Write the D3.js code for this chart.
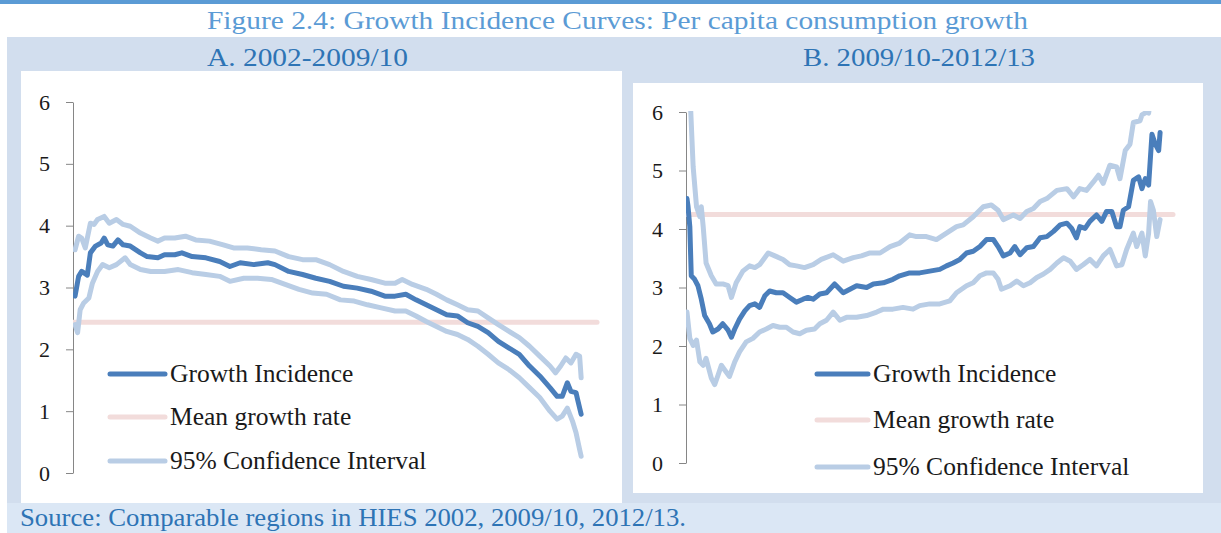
<!DOCTYPE html>
<html>
<head>
<meta charset="utf-8">
<script src="https://cdn.jsdelivr.net/npm/d3@7"></script>
<style>
  body { margin: 0; background: #fff; }
  svg text { font-family: "Liberation Serif", "Times New Roman", serif; }
</style>
</head>
<body>
<div id="chart"></div>
<script>
// ---- data (percentile of population, growth %) ----
var yTicks = [0, 1, 2, 3, 4, 5, 6];
var legendLabels = ["Growth Incidence", "Mean growth rate", "95% Confidence Interval"];

var giA = [[1,2.86],[1.7,3.18],[2.3,3.26],[3.4,3.20],[4.0,3.56],[5.0,3.67],[6.1,3.72],[6.7,3.80],
  [7.4,3.69],[8.4,3.67],[9.4,3.77],[10.4,3.69],[11.8,3.67],[13.8,3.56],[15.1,3.50],[17.2,3.48],
  [18.5,3.53],[20.5,3.53],[21.9,3.56],[23.9,3.50],[26.6,3.48],[29.3,3.42],[31.3,3.34],[33.3,3.40],
  [36.0,3.37],[38.7,3.40],[40.1,3.37],[42.8,3.26],[45.5,3.21],[48.1,3.15],[50.8,3.10],[53.5,3.02],
  [56.2,2.99],[58.9,2.94],[61.6,2.86],[63.6,2.86],[65.7,2.89],[67.7,2.80],[69.7,2.72],[71.7,2.64],
  [73.7,2.56],[75.8,2.54],[77.8,2.43],[79.8,2.37],[81.8,2.27],[83.8,2.13],[85.9,2.02],[87.9,1.92],
  [89.9,1.73],[91.9,1.57],[93.9,1.38],[95.3,1.24],[96.3,1.24],[97.3,1.46],[98.0,1.32],[99.0,1.30],
  [99.3,1.19],[100,0.95]];
var ciUpperA = [[1,3.61],[1.7,3.83],[2.3,3.80],[3.0,3.64],[4.0,4.04],[4.7,4.02],[5.4,4.10],[6.7,4.15],
  [7.7,4.04],[9.1,4.10],[10.4,4.02],[11.8,3.99],[13.8,3.88],[15.8,3.80],[17.2,3.75],[18.5,3.80],
  [20.5,3.80],[22.6,3.83],[24.6,3.77],[27.3,3.75],[30.0,3.69],[32.0,3.64],[34.7,3.64],[37.4,3.61],
  [40.1,3.59],[42.8,3.50],[45.5,3.45],[48.1,3.45],[50.8,3.37],[53.5,3.26],[56.2,3.18],[58.9,3.13],
  [61.6,3.07],[63.6,3.07],[65.0,3.13],[67.0,3.05],[69.7,2.97],[71.7,2.89],[73.7,2.80],[75.8,2.72],
  [77.8,2.64],[79.8,2.62],[81.8,2.51],[83.8,2.40],[85.9,2.29],[87.9,2.19],[89.9,2.05],[91.9,1.89],
  [93.9,1.73],[95.0,1.62],[96.0,1.73],[97.0,1.86],[98.0,1.78],[99.0,1.92],[99.7,1.89],[100,1.54]];
var ciLowerA = [[1,2.40],[1.5,2.27],[2.0,2.64],[2.7,2.75],[3.7,2.83],[4.4,3.07],[5.4,3.26],[6.4,3.37],
  [7.7,3.32],[9.1,3.37],[10.8,3.48],[11.8,3.37],[13.8,3.29],[15.8,3.26],[18.5,3.26],[21.2,3.29],
  [23.9,3.24],[26.6,3.21],[29.3,3.18],[31.3,3.10],[34.0,3.15],[36.7,3.15],[39.4,3.13],[42.1,3.05],
  [44.8,2.97],[47.5,2.91],[50.2,2.89],[52.9,2.80],[55.6,2.78],[58.2,2.72],[60.9,2.67],[63.6,2.62],
  [65.7,2.62],[67.7,2.54],[69.7,2.45],[71.7,2.37],[73.7,2.29],[75.8,2.24],[77.8,2.16],[79.8,2.05],
  [81.8,1.92],[83.8,1.78],[85.9,1.67],[87.9,1.54],[89.9,1.38],[91.9,1.22],[93.9,1.00],[95.3,0.87],
  [96.3,0.92],[97.3,1.05],[98.3,0.84],[99.0,0.65],[99.7,0.38],[100,0.27]];
var meanA = 2.44;

var giB = [[1,4.52],[1.2,4.40],[1.6,4.04],[1.9,3.20],[2.6,3.14],[3.3,3.03],[4.0,2.80],[4.7,2.52],
  [5.7,2.38],[6.4,2.24],[7.5,2.29],[8.5,2.38],[9.6,2.27],[10.3,2.15],[11.0,2.29],[12.0,2.46],
  [13.1,2.60],[14.1,2.69],[15.2,2.72],[16.2,2.66],[17.3,2.86],[18.3,2.94],[19.7,2.91],[21.1,2.91],
  [22.5,2.83],[23.9,2.75],[25.3,2.80],[26.3,2.83],[27.4,2.80],[28.8,2.89],[30.2,2.91],[31.9,3.06],
  [33.7,2.91],[35.1,2.97],[36.5,3.03],[38.6,3.00],[40.0,3.06],[42.1,3.08],[44.1,3.14],[45.5,3.20],
  [47.6,3.25],[49.7,3.25],[51.8,3.28],[53.9,3.31],[55.3,3.37],[56.7,3.42],[58.1,3.48],[59.5,3.59],
  [60.9,3.62],[62.3,3.70],[63.7,3.82],[65.1,3.82],[66.1,3.70],[67.2,3.54],[68.6,3.59],[69.6,3.70],
  [70.7,3.56],[72.1,3.68],[73.5,3.70],[74.9,3.85],[76.3,3.87],[77.7,3.96],[79.1,4.07],[80.5,4.10],
  [81.5,4.01],[82.5,3.85],[83.2,4.04],[84.3,4.01],[85.3,4.13],[86.7,4.24],[87.8,4.13],[88.8,4.30],
  [89.9,4.30],[90.9,4.04],[91.6,4.04],[92.3,4.32],[93.4,4.38],[94.4,4.83],[95.5,4.89],[96.2,4.69],
  [96.9,4.86],[97.6,4.75],[98.3,5.62],[99.0,5.45],[99.7,5.34],[100,5.65]];
var ciUpperB = [[1,7.5],[2.3,5.06],[3.0,4.38],[3.7,4.21],[4.0,4.38],[4.4,4.04],[5.0,3.42],[6.1,3.20],
  [7.1,3.06],[8.5,3.06],[9.6,3.03],[10.3,2.83],[11.3,3.08],[12.7,3.28],[14.1,3.37],[15.2,3.34],
  [16.2,3.39],[18.0,3.59],[19.4,3.54],[21.1,3.48],[22.5,3.39],[23.9,3.37],[25.6,3.34],[27.4,3.39],
  [29.1,3.48],[31.6,3.56],[33.7,3.45],[35.8,3.51],[37.5,3.54],[39.3,3.59],[41.4,3.59],[43.5,3.70],
  [45.5,3.76],[47.6,3.90],[49.0,3.87],[51.1,3.87],[53.2,3.82],[55.3,3.93],[57.4,4.04],[58.8,4.07],
  [60.9,4.21],[63.0,4.38],[64.7,4.41],[66.1,4.32],[67.2,4.16],[69.3,4.24],[70.7,4.18],[72.1,4.30],
  [73.5,4.35],[74.9,4.47],[76.3,4.52],[78.4,4.66],[80.5,4.69],[81.9,4.55],[83.2,4.69],[84.6,4.66],
  [86.0,4.80],[87.1,4.92],[88.1,4.78],[89.5,5.09],[90.9,5.06],[91.6,4.86],[92.7,5.34],[93.7,5.45],
  [94.4,5.82],[95.8,5.85],[96.2,5.95],[97.2,6.0],[97.6,5.98],[98.6,6.6],[100,6.8]];
var ciLowerB = [[1,2.58],[1.6,2.13],[2.3,2.01],[3.0,2.10],[3.7,1.73],[4.4,1.67],[5.0,1.79],[6.1,1.45],
  [6.8,1.34],[7.5,1.50],[8.2,1.67],[8.9,1.59],[9.9,1.48],[11.0,1.73],[12.0,1.90],[13.4,2.07],
  [14.8,2.13],[16.2,2.24],[17.6,2.29],[19.0,2.35],[20.4,2.32],[21.8,2.32],[23.2,2.24],[24.6,2.21],
  [26.0,2.27],[27.7,2.29],[28.8,2.38],[30.2,2.44],[31.6,2.58],[33.0,2.44],[34.4,2.49],[36.5,2.49],
  [38.6,2.52],[40.7,2.58],[42.1,2.63],[44.1,2.63],[46.2,2.66],[48.3,2.63],[49.7,2.69],[51.8,2.72],
  [53.9,2.72],[56.0,2.77],[57.4,2.91],[59.5,3.03],[60.9,3.08],[62.3,3.20],[63.7,3.25],[65.1,3.25],
  [66.1,3.14],[66.8,2.97],[68.6,3.03],[70.0,3.11],[71.4,3.03],[72.8,3.08],[74.2,3.17],[75.6,3.23],
  [77.0,3.31],[78.4,3.42],[79.8,3.51],[81.2,3.45],[82.5,3.31],[83.9,3.39],[85.3,3.48],[86.7,3.37],
  [88.1,3.54],[89.5,3.65],[90.9,3.37],[92.0,3.39],[93.0,3.65],[94.4,3.93],[95.1,3.70],[96.2,3.93],
  [96.9,3.54],[97.6,3.93],[98.0,4.47],[98.6,4.32],[99.3,3.87],[100,4.16]];
var meanB = 4.25;

// ---- styles ----
var COLORS = { gi: "#4a7ebb", mean: "#f2dcdb", ci: "#b9cde5" };
var W = 1221, H = 533;

var svg = d3.select("#chart").append("svg")
    .attr("width", W)
    .attr("height", H);

// background bands
svg.append("rect").attr("x", 0).attr("y", 0).attr("width", W).attr("height", 4).attr("fill", "#5b9bd5");
svg.append("rect").attr("x", 7).attr("y", 37).attr("width", W - 7).attr("height", 466).attr("fill", "#d2deee");
svg.append("rect").attr("x", 7).attr("y", 503).attr("width", W - 7).attr("height", 30).attr("fill", "#dbe7f5");

// titles
svg.append("text").attr("x", 207).attr("y", 29)
    .attr("textLength", 821).attr("lengthAdjust", "spacingAndGlyphs")
    .style("font-size", "26px").style("fill", "#5b9bd5")
    .text("Figure 2.4: Growth Incidence Curves: Per capita consumption growth");
svg.append("text").attr("x", 207).attr("y", 66)
    .attr("textLength", 201).attr("lengthAdjust", "spacingAndGlyphs")
    .style("font-size", "26px").style("fill", "#2e74b5")
    .text("A. 2002-2009/10");
svg.append("text").attr("x", 803).attr("y", 66)
    .attr("textLength", 232).attr("lengthAdjust", "spacingAndGlyphs")
    .style("font-size", "26px").style("fill", "#2e74b5")
    .text("B. 2009/10-2012/13");
svg.append("text").attr("x", 20).attr("y", 526)
    .attr("textLength", 666).attr("lengthAdjust", "spacingAndGlyphs")
    .style("font-size", "25px").style("fill", "#2e74b5")
    .text("Source: Comparable regions in HIES 2002, 2009/10, 2012/13.");

var panels = [
  { id: "A", box: [21, 71, 601, 432], xDomain: [0.6, 103.1], xRange: [73, 597], yRange: [473, 102],
    gi: giA, up: ciUpperA, lo: ciLowerA, mean: meanA, legX: 110, legLen: 55, legY: [374, 417, 461] },
  { id: "B", box: [633, 83, 570, 410], xDomain: [0.8, 102.7], xRange: [686, 1173], yRange: [463, 112],
    gi: giB, up: ciUpperB, lo: ciLowerB, mean: meanB, legX: 817, legLen: 51, legY: [374, 420, 467] }
];

panels.forEach(drawPanel);

function drawPanel(p) {
    var g = svg.append("g").attr("class", "panel" + p.id);

    g.append("rect")
        .attr("x", p.box[0]).attr("y", p.box[1])
        .attr("width", p.box[2]).attr("height", p.box[3])
        .attr("fill", "#fff");

    var x = d3.scaleLinear().domain(p.xDomain).range(p.xRange);
    var y = d3.scaleLinear().domain([0, 6]).range(p.yRange);

    // y axis
    var axis = g.append("g")
        .attr("transform", "translate(" + p.xRange[0] + ",0)")
        .call(d3.axisLeft(y).tickValues(yTicks).tickSize(7).tickSizeOuter(0).tickPadding(16)
            .tickFormat(d3.format("d")));
    axis.select(".domain").attr("stroke", "#868686");
    axis.selectAll(".tick line").attr("stroke", "#868686");
    axis.selectAll(".tick text")
        .style("font-size", "22px").style("fill", "#1a1a1a")
        .style("font-family", "'Liberation Serif', serif");

    // clip for values above axis max
    g.append("clipPath").attr("id", "clip" + p.id)
      .append("rect")
        .attr("x", p.xRange[0]).attr("y", y(6) - 1)
        .attr("width", p.xRange[1] - p.xRange[0] + 10)
        .attr("height", y(0) - y(6) + 30);

    var plot = g.append("g").attr("clip-path", "url(#clip" + p.id + ")");

    var line = d3.line().x(function(d){ return x(d[0]); }).y(function(d){ return y(d[1]); });

    // mean growth rate
    plot.append("path")
        .datum([[p.xDomain[0], p.mean], [p.xDomain[1], p.mean]])
        .attr("d", line)
        .attr("fill", "none").attr("stroke", COLORS.mean)
        .attr("stroke-width", 5).attr("stroke-linecap", "round");

    [p.up, p.lo].forEach(function(series) {
        plot.append("path").datum(series)
            .attr("d", line)
            .attr("fill", "none").attr("stroke", COLORS.ci)
            .attr("stroke-width", 5).attr("stroke-linejoin", "round").attr("stroke-linecap", "round");
    });

    plot.append("path").datum(p.gi)
        .attr("d", line)
        .attr("fill", "none").attr("stroke", COLORS.gi)
        .attr("stroke-width", 5).attr("stroke-linejoin", "round").attr("stroke-linecap", "round");

    // legend
    var legColors = [COLORS.gi, COLORS.mean, COLORS.ci];
    var leg = g.selectAll(".leg").data(legendLabels).enter().append("g").attr("class", "leg");
    leg.append("line")
        .attr("x1", p.legX).attr("x2", p.legX + p.legLen)
        .attr("y1", function(d, i){ return p.legY[i]; })
        .attr("y2", function(d, i){ return p.legY[i]; })
        .attr("stroke", function(d, i){ return legColors[i]; })
        .attr("stroke-width", 5).attr("stroke-linecap", "round");
    leg.append("text")
        .attr("x", p.legX + p.legLen + 5)
        .attr("y", function(d, i){ return p.legY[i] + 8; })
        .style("font-size", "25.5px").style("fill", "#1a1a1a")
        .text(function(d){ return d; });
}
</script>
</body>
</html>
